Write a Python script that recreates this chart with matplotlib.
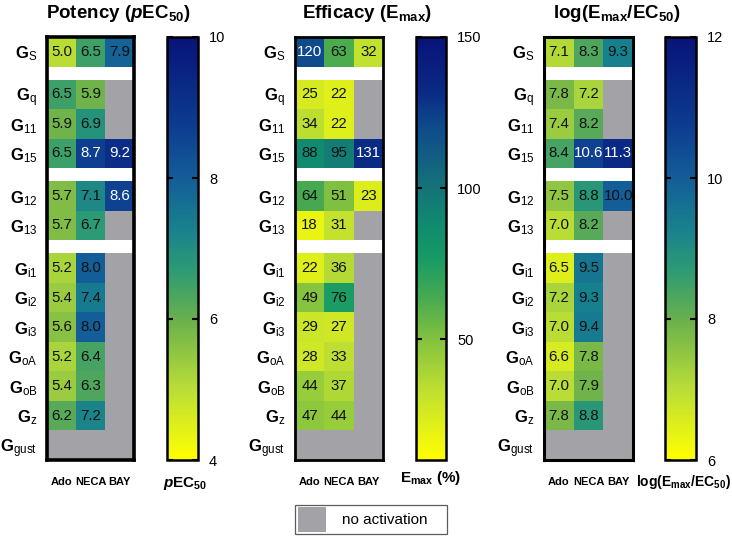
import numpy as np
import matplotlib
matplotlib.use('Agg')
import matplotlib.pyplot as plt
from matplotlib.colors import LinearSegmentedColormap, Normalize
from matplotlib.patches import Patch
from matplotlib.cm import ScalarMappable

plt.rcParams.update({
    'font.family': ['Liberation Sans', 'DejaVu Sans'],
    'mathtext.fontset': 'custom',
    'mathtext.rm': 'Liberation Sans',
    'mathtext.it': 'Liberation Sans:italic',
    'mathtext.bf': 'Liberation Sans:bold',
    'mathtext.bfit': 'Liberation Sans:italic:bold',
})

# ---------------- data ----------------
row_subs = ['S', 'q', '11', '15', '12', '13', 'i1', 'i2', 'i3', 'oA', 'oB', 'z', 'gust']
groups = [[0], [1, 2, 3], [4, 5], [6, 7, 8, 9, 10, 11, 12]]
agonists = ['Ado', 'NECA', 'BAY']
nan = np.nan

pec50 = [
    [5.0, 6.5, 7.9],
    [6.5, 5.9, nan],
    [5.9, 6.9, nan],
    [6.5, 8.7, 9.2],
    [5.7, 7.1, 8.6],
    [5.7, 6.7, nan],
    [5.2, 8.0, nan],
    [5.4, 7.4, nan],
    [5.6, 8.0, nan],
    [5.2, 6.4, nan],
    [5.4, 6.3, nan],
    [6.2, 7.2, nan],
    [nan, nan, nan],
]
emax = [
    [120, 63, 32],
    [25, 22, nan],
    [34, 22, nan],
    [88, 95, 131],
    [64, 51, 23],
    [18, 31, nan],
    [22, 36, nan],
    [49, 76, nan],
    [29, 27, nan],
    [28, 33, nan],
    [44, 37, nan],
    [47, 44, nan],
    [nan, nan, nan],
]
logratio = [
    [7.1, 8.3, 9.3],
    [7.8, 7.2, nan],
    [7.4, 8.2, nan],
    [8.4, 10.6, 11.3],
    [7.5, 8.8, 10.0],
    [7.0, 8.2, nan],
    [6.5, 9.5, nan],
    [7.2, 9.3, nan],
    [7.0, 9.4, nan],
    [6.6, 7.8, nan],
    [7.0, 7.9, nan],
    [7.8, 8.8, nan],
    [nan, nan, nan],
]

GRAY = '#a3a3a7'

cmap_main = LinearSegmentedColormap.from_list('main', [
    (0.00, '#ffff00'), (0.17, '#b8dc38'), (0.33, '#6ab04c'), (0.45, '#2c9a74'),
    (0.55, '#17808e'), (0.67, '#135c98'), (0.80, '#0c3a8e'), (1.00, '#08137a')])
cmap_emax = LinearSegmentedColormap.from_list('emax', [
    (0.00, '#ffff00'), (0.16, '#c0e030'), (0.29, '#80c040'), (0.38, '#48aa50'),
    (0.48, '#159a66'), (0.56, '#108a70'), (0.64, '#157478'), (0.79, '#0f4a8c'),
    (0.87, '#0a2a85'), (1.00, '#08137a')])
for c in (cmap_main, cmap_emax):
    c.set_bad(GRAY)

panels = [
    dict(data=pec50, cmap=cmap_main, vmin=4, vmax=10, ticks=[4, 6, 8, 10], fmt='{:.1f}',
         title=r'Potency ($\mathbfit{p}$EC$_{\mathbf{50}}$)',
         cblabel=r'$\mathbfit{p}$EC$_{\mathbf{50}}$', cboff=(2, -17), cbfs=11,
         hm=(47, 134), cb=(167, 198), tx=118, frame=2.6),
    dict(data=emax, cmap=cmap_emax, vmin=10, vmax=150, ticks=[50, 100, 150], fmt='{:.0f}',
         title=r'Efficacy (E$_{\mathbf{max}}$)',
         cblabel=r'E$_{\mathbf{max}}$ (%)', cboff=(0, -13), cbfs=11,
         hm=(295, 383), cb=(416, 446), tx=367, frame=2.0),
    dict(data=logratio, cmap=cmap_main, vmin=6, vmax=12, ticks=[6, 8, 10, 12], fmt='{:.1f}',
         title=r'log(E$_{\mathbf{max}}$/EC$_{\mathbf{50}}$)',
         cblabel=r'log(E$_{\mathbf{max}}$/EC$_{\mathbf{50}}$)', cboff=(2, -16), cbfs=10,
         hm=(544, 633), cb=(665, 696), tx=617, frame=2.2),
]

W, H = 732, 540
fig = plt.figure(figsize=(W / 100, H / 100), dpi=100)


def px_axes(x0, y0, x1, y1):
    return fig.add_axes([x0 / W, 1 - y1 / H, (x1 - x0) / W, (y1 - y0) / H])


GAP = 0.44
row_top = {}
y = 0.0
for gi, grp in enumerate(groups):
    if gi > 0:
        y += GAP
    for r in grp:
        row_top[r] = y
        y += 1.0
total_h = y

TOP, BOT = 37, 460

for p in panels:
    arr = np.array(p['data'], dtype=float)
    norm = Normalize(p['vmin'], p['vmax'])
    ax = px_axes(p['hm'][0], TOP, p['hm'][1], BOT)
    xedges = np.arange(len(agonists) + 1)
    for grp in groups:
        yedges = np.array([row_top[grp[0]] + k for k in range(len(grp) + 1)])
        sub = np.ma.masked_invalid(arr[grp, :])
        ax.pcolormesh(xedges, yedges, sub, cmap=p['cmap'], norm=norm,
                      edgecolors='none', antialiased=False)
        for ii, r in enumerate(grp):
            for j in range(len(agonists)):
                v = arr[r, j]
                if np.isnan(v):
                    continue
                col = 'white' if norm(v) > 0.7 else '#111111'
                ax.text(j + 0.5, row_top[r] + 0.5, p['fmt'].format(v),
                        ha='center', va='center', fontsize=10.8, color=col)
    ax.set_xlim(0, len(agonists))
    ax.set_ylim(total_h, 0)
    ax.set_facecolor('white')
    ax.set_xticks(np.arange(len(agonists)) + 0.5)
    ax.set_xticklabels(agonists, fontsize=8, fontweight='bold')
    ax.set_yticks([row_top[r] + 0.5 for r in range(len(row_subs))])
    ax.set_yticklabels([r'$\mathbf{G}_{\mathrm{%s}}$' % s for s in row_subs], fontsize=12)
    ax.tick_params(length=0, axis='x', pad=12)
    ax.tick_params(length=0, axis='y', pad=7)
    for sp in ax.spines.values():
        sp.set_linewidth(p['frame'])
        sp.set_color('black')

    cax = px_axes(p['cb'][0], TOP, p['cb'][1], BOT)
    sm = ScalarMappable(norm=norm, cmap=p['cmap'])
    cb = fig.colorbar(sm, cax=cax, ticks=p['ticks'])
    cb.outline.set_linewidth(1.8)
    cax.tick_params(direction='in', length=4, width=1.5, left=True, right=True,
                    labelleft=False, labelright=True, labelsize=10.5, pad=8)
    cax.annotate(p['cblabel'], xy=(0.5, 0), xycoords='axes fraction',
                 xytext=p['cboff'], textcoords='offset points',
                 ha='center', va='center', fontsize=p['cbfs'], fontweight='bold')

    fig.text(p['tx'] / W, 1 - 14 / H, p['title'], ha='center', va='center',
             fontsize=13.5, fontweight='bold')

leg = fig.legend(handles=[Patch(facecolor=GRAY, edgecolor='none')],
                 labels=['no activation    '], loc='center',
                 bbox_to_anchor=(371 / W, 1 - 519.5 / H),
                 frameon=True, fancybox=False, fontsize=11,
                 handlelength=1.85, handleheight=2.05, handletextpad=1.0,
                 borderpad=0.18, borderaxespad=0)
leg.get_frame().set_edgecolor('#333333')
leg.get_frame().set_linewidth(0.9)

fig.savefig('out.png', dpi=100)
